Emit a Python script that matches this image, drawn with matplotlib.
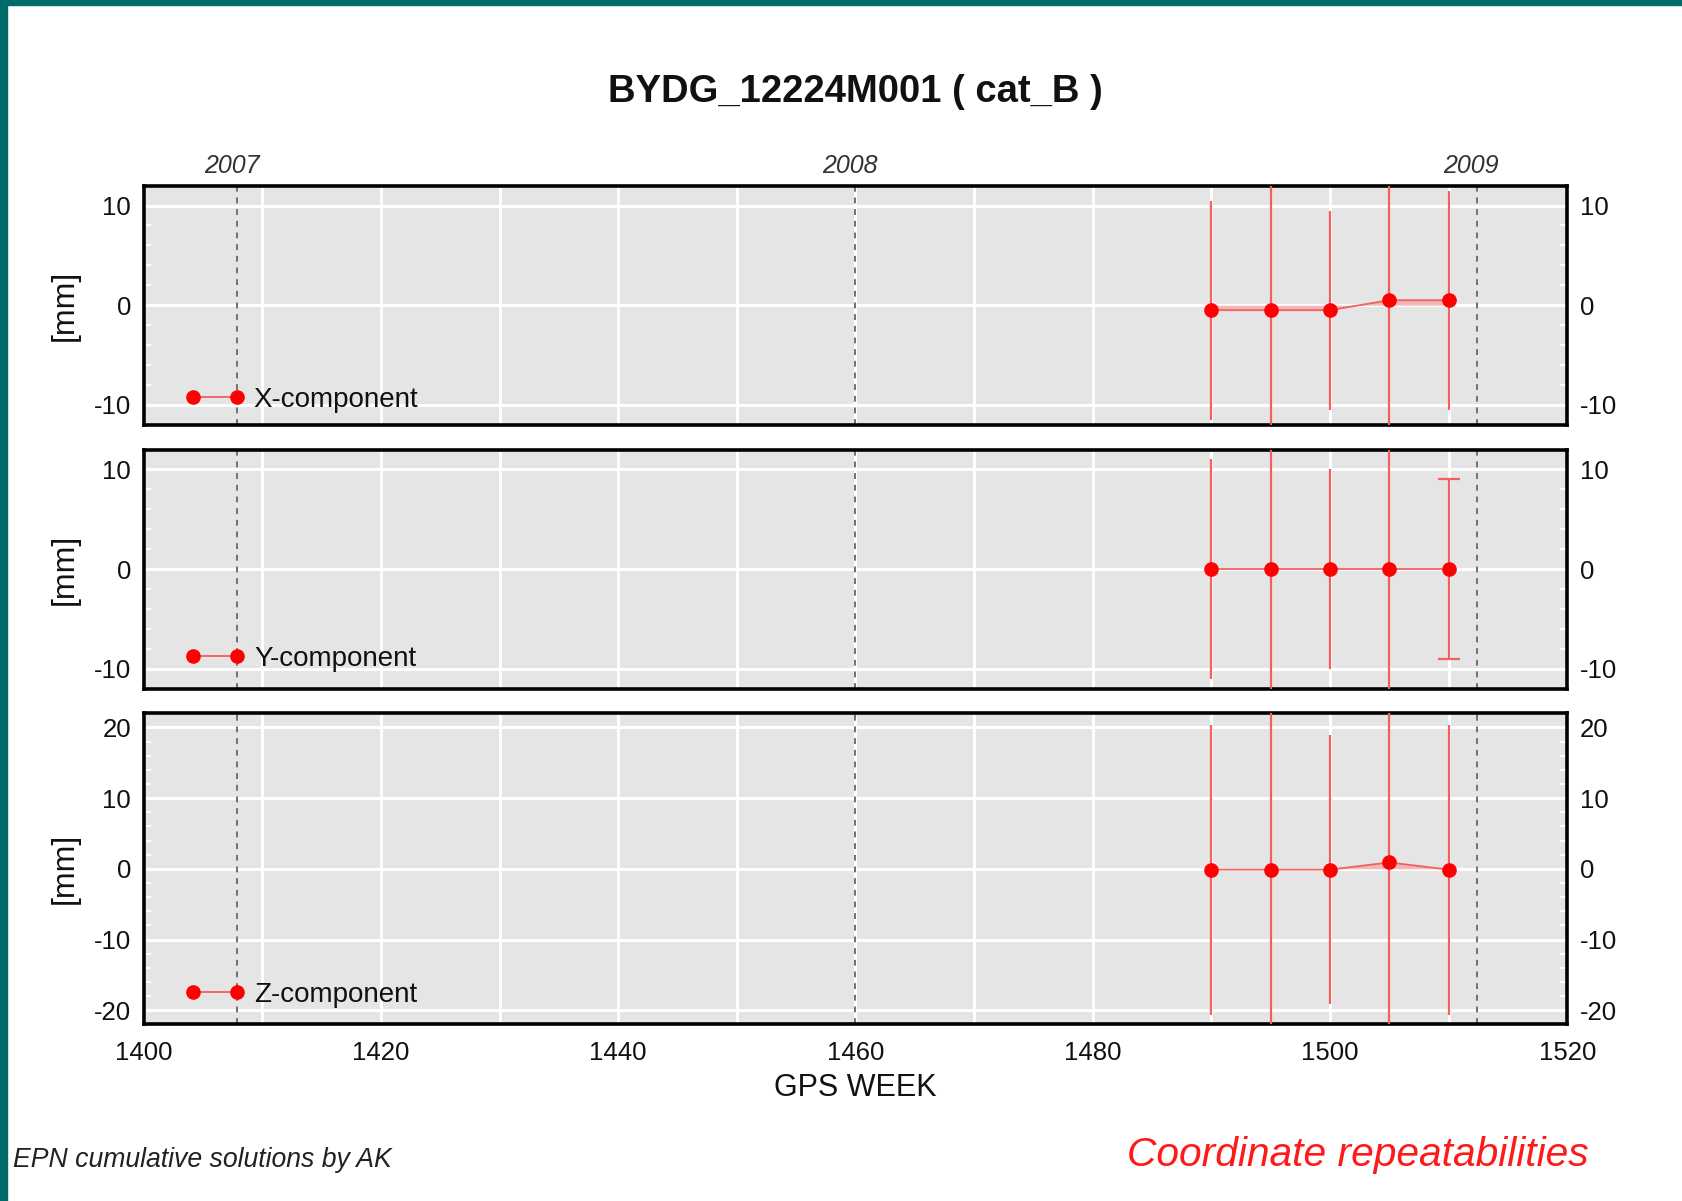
import matplotlib
matplotlib.use("Agg")
import matplotlib.pyplot as plt
from matplotlib.lines import Line2D
from matplotlib.patches import Rectangle
from matplotlib.ticker import MultipleLocator

plt.rcParams['font.family'] = ['Liberation Sans', 'DejaVu Sans']
plt.rcParams['axes.unicode_minus'] = False

# GPS weeks of the weekly solutions
weeks = [1490, 1495, 1500, 1505, 1510]
# residuals [mm] and their repeatability bars [mm]
x_mm = [-0.5, -0.5, -0.5, 0.5, 0.5]
y_mm = [0.0, 0.0, 0.0, 0.0, 0.0]
z_mm = [-0.1, -0.1, -0.1, 0.9, -0.1]
x_err = [11.0, 15.0, 10.0, 15.0, 11.0]
y_err = [11.0, 15.0, 10.0, 15.0, 9.0]
z_err = [20.5, 28.0, 19.0, 28.0, 20.5]

components = ['X-component', 'Y-component', 'Z-component']
ylims = [12, 12, 22]
ytick_step = [10, 10, 10]

years = ['2007', '2008', '2009']
year_weeks = [1407.9, 1460.0, 1512.4]

RED = '#ff0000'
LRED = '#f26060'
PINK = '#f4a0a0'
BG = '#e5e5e5'

fig = plt.figure(figsize=(16.82, 12.01), dpi=100)

# border strips along the top and left edge
fig.patches.append(Rectangle((0, 1 - 5 / 1201), 1, 5 / 1201, transform=fig.transFigure,
                             color='#006b6b', zorder=0))
fig.patches.append(Rectangle((0, 0), 7 / 1682, 1, transform=fig.transFigure,
                             color='#006b6b', zorder=0))

left, width = 143.7 / 1682, (1567.2 - 143.7) / 1682
boxes = [(185.6, 424.8), (449.5, 688.7), (713.3, 1024.4)]
leg_y = [0.104, 0.126, 0.094]

data = [(x_mm, x_err), (y_mm, y_err), (z_mm, z_err)]
axes = []
for i, (top, bot) in enumerate(boxes):
    ax = fig.add_axes([left, 1 - bot / 1201, width, (bot - top) / 1201])
    axes.append(ax)
    ax.set_facecolor(BG)
    vals, errs = data[i]

    ax.fill_between(weeks, vals, 0, color=PINK, alpha=0.7, lw=0, zorder=2)
    for w, v, e in zip(weeks, vals, errs):
        cap = 8 if e < 10 else 0
        ax.errorbar(w, v, yerr=e, fmt='none', ecolor=LRED, elinewidth=1.6,
                    capsize=cap, capthick=1.6, zorder=3)
    ax.plot(weeks, vals, color=LRED, lw=1.3, zorder=4)
    ax.plot(weeks, vals, 'o', color=RED, ms=9.5, zorder=5)

    for yw in year_weeks:
        ax.axvline(yw, color='#707070', lw=1.4, ls=(0, (3, 3)), zorder=1.5)

    ax.set_xlim(1400, 1520)
    ax.set_ylim(-ylims[i], ylims[i])
    ax.xaxis.set_major_locator(MultipleLocator(20))
    ax.xaxis.set_minor_locator(MultipleLocator(10))
    ax.yaxis.set_major_locator(MultipleLocator(ytick_step[i]))
    ax.yaxis.set_minor_locator(MultipleLocator(2))
    ax.grid(True, which='major', color='white', lw=2.2, zorder=1)
    ax.grid(True, which='minor', axis='x', color='white', lw=2.2, zorder=1)
    ax.set_axisbelow(True)

    ax.tick_params(axis='both', which='both', direction='in', color='white',
                   top=True, right=True, width=1.5)
    ax.tick_params(axis='both', which='major', length=6)
    ax.tick_params(axis='both', which='minor', length=5)
    ax.tick_params(axis='y', labelsize=18.5, labelright=True, pad=9,
                   labelcolor='#111111')
    ax.tick_params(axis='x', labelsize=18.5, pad=12, labelcolor='#111111',
                   labelbottom=(i == 2))
    for s in ax.spines.values():
        s.set_linewidth(2.6)
        s.set_color('black')

    ax.set_ylabel('[mm]', fontsize=23, labelpad=10, color='#111111')

    handle = Line2D([], [], color=LRED, lw=1.3, marker='o', ms=9.5,
                    markerfacecolor=RED, markeredgecolor=RED)
    leg = ax.legend([handle], [components[i]], loc='center left',
                    bbox_to_anchor=(0.0288, leg_y[i]), frameon=False,
                    numpoints=2, handlelength=2.18, handletextpad=0.31,
                    borderpad=0, borderaxespad=0, fontsize=20)
    for t in leg.get_texts():
        t.set_color('#111111')

for yl, yw in zip(years, year_weeks):
    axes[0].text(yw - 0.5, 1.082, yl, transform=axes[0].get_xaxis_transform(),
                 ha='center', va='center', fontsize=18, style='italic',
                 color='#333333')

axes[2].set_xlabel('GPS WEEK', fontsize=22, labelpad=6, color='#111111')

fig.text(855 / 1682, 1 - 92 / 1201, 'BYDG_12224M001 ( cat_B )', ha='center',
         va='center', fontsize=27.5, fontweight='bold', color='#111111')
fig.text(13 / 1682, 1 - 1160 / 1201, 'EPN cumulative solutions by AK',
         ha='left', va='center', fontsize=19.2, style='italic', color='#222222')
fig.text(1589 / 1682, 1 - 1155 / 1201, 'Coordinate repeatabilities',
         ha='right', va='center', fontsize=29.3, style='italic', color='#ff1a1a')

fig.savefig('out.png', dpi=100, facecolor='white')
